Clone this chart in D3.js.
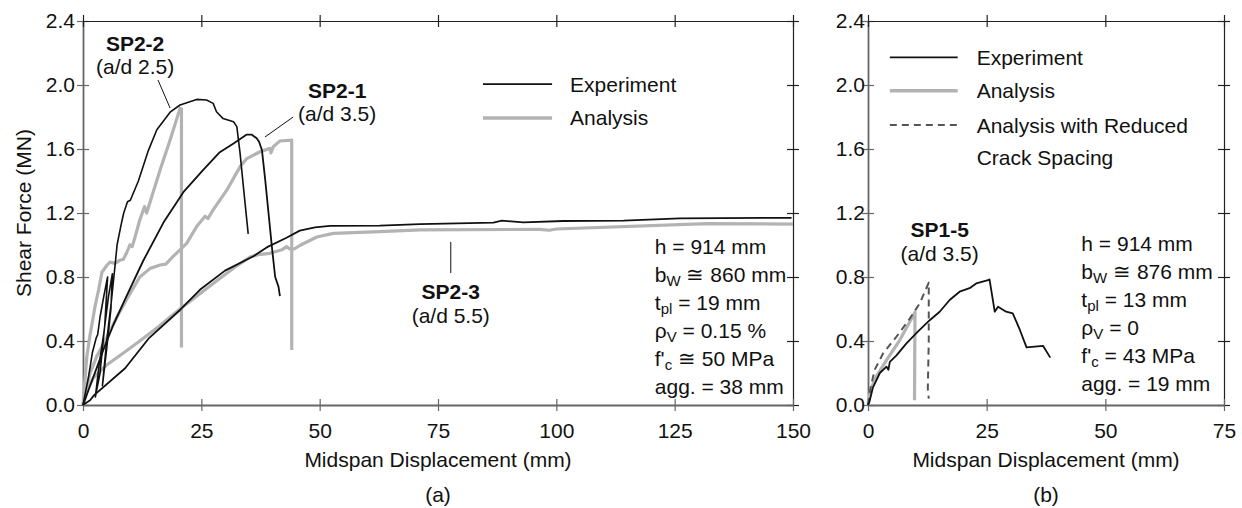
<!DOCTYPE html>
<html>
<head>
<meta charset="utf-8">
<script src="https://cdn.jsdelivr.net/npm/d3@7"></script>
<style>
  body { margin: 0; background: #fff; }
  svg { font-family: "Liberation Sans", Arial, sans-serif; }
  .tick text { font-size: 21px; fill: #111; }
  .lbl { font-size: 21px; fill: #111; }
  .bold { font-weight: bold; }
</style>
</head>
<body>
<svg id="chart" width="1242" height="508"></svg>
<script>
// ---- data (mm, MN) ----
const yTicks = [0, 0.4, 0.8, 1.2, 1.6, 2.0, 2.4];
const xTicksA = [0, 25, 50, 75, 100, 125, 150];
const xTicksB = [0, 25, 50, 75];

const sp22Exp = [[0,0],[1.2,0.18],[2.0,0.33],[2.8,0.42],[3.1,0.44],[3.6,0.55],[4.4,0.68],[5.2,0.8],[4.6,0.5],[3.6,0.2],[2.6,0.05],[3.4,0.25],[4.4,0.45],[5.4,0.68],[6.2,0.82],[5.9,0.6],[5.0,0.35],[4.1,0.12],[5.0,0.4],[6.0,0.65],[6.8,0.88],[7.2,1.0],[8.0,1.12],[8.6,1.2],[9.4,1.27],[10.0,1.28],[11.7,1.40],[13.8,1.59],[15.6,1.72],[18.4,1.83],[20.5,1.875],[24.0,1.91],[26.1,1.906],[27.5,1.885],[28.2,1.833],[29.6,1.79],[31.8,1.77],[32.5,1.74],[33.2,1.57],[33.9,1.36],[34.9,1.07]];
const sp22Ana = [[0,0],[0.8,0.3],[1.5,0.44],[2.6,0.625],[3.3,0.72],[4.0,0.83],[5.1,0.875],[5.7,0.893],[6.8,0.885],[7.8,0.905],[8.5,0.91],[9.2,0.95],[9.9,1.0],[10.4,0.99],[11.0,1.05],[12.0,1.156],[13.0,1.24],[13.45,1.2],[14.5,1.30],[16.3,1.47],[18.4,1.656],[20.5,1.854],[20.8,1.85],[20.8,0.36]];
const sp21Exp = [[0,0],[1.5,0.12],[3.0,0.24],[4.5,0.36],[6.4,0.5],[9.2,0.68],[12.7,0.9],[17.0,1.14],[21.2,1.33],[25.4,1.47],[28.9,1.58],[31.8,1.635],[34.6,1.69],[35.6,1.69],[36.7,1.667],[37.2,1.645],[37.8,1.594],[38.5,1.406],[39.2,1.198],[39.9,0.99],[40.6,0.80],[41.3,0.74],[41.6,0.68]];
const sp21Ana = [[0,0],[1.5,0.2],[3.0,0.31],[5.0,0.42],[7.0,0.54],[9.2,0.66],[12.0,0.80],[14.2,0.854],[16.3,0.875],[17.5,0.88],[19.1,0.93],[20.5,0.97],[21.9,1.01],[24.0,1.115],[25.8,1.18],[26.4,1.165],[27.5,1.22],[30.4,1.344],[33.2,1.49],[34.6,1.54],[37.4,1.583],[39.5,1.604],[39.7,1.575],[40.2,1.615],[41.6,1.65],[44.1,1.656],[44.1,0.344]];
const sp23Exp = [[0,0],[1.5,0.03],[2.3,0.06],[8.9,0.23],[14,0.42],[20.5,0.594],[24.7,0.72],[30,0.84],[36,0.93],[38.8,0.985],[43,1.045],[45.8,1.09],[49,1.11],[52.2,1.119],[62.7,1.121],[71.2,1.13],[86.7,1.14],[88.5,1.152],[93,1.142],[101.5,1.15],[114.2,1.152],[126.1,1.167],[149.7,1.17]];
const sp23Ana = [[0,0],[1,0.1],[2.2,0.17],[5,0.25],[8.9,0.333],[12,0.4],[16,0.49],[20.5,0.6],[27.5,0.76],[32,0.86],[35.3,0.925],[37,0.94],[39.5,0.948],[42,0.97],[43,0.99],[43.7,0.975],[44.6,0.975],[46,1.0],[49.4,1.05],[52.9,1.073],[62.7,1.083],[71.2,1.094],[96.5,1.098],[98.5,1.092],[100,1.1],[131.8,1.133],[150,1.131]];

const sp15Exp = [[0,0],[0.3,0.02],[1.05,0.11],[2.5,0.2],[3.9,0.24],[4.3,0.22],[4.6,0.27],[6,0.31],[8.1,0.385],[10.5,0.458],[13,0.53],[15.1,0.583],[17.2,0.656],[19.3,0.708],[21.4,0.73],[22.8,0.76],[25.3,0.78],[25.6,0.785],[26.7,0.583],[27.4,0.614],[29.1,0.583],[30.5,0.573],[32,0.469],[33.4,0.36],[36.9,0.369],[38.4,0.296]];
const sp15Ana = [[0,0],[0.6,0.1],[1.75,0.177],[3.9,0.28],[6.7,0.406],[9.9,0.58],[9.8,0.03]];
const sp15Red = [[0,0],[0.5,0.1],[1.4,0.22],[3.2,0.323],[6,0.427],[8.8,0.54],[10.9,0.635],[12.8,0.765],[12.8,0.4],[12.6,0.1],[12.8,0.04]];

const paramsA = [
  [["h = 914 mm"]],
  [["b"],["W","sub"],[" \u2245 860 mm"]],
  [["t"],["pl","sub"],[" = 19 mm"]],
  [["\u03C1"],["V","sub"],[" = 0.15 %"]],
  [["f'"],["c","sub"],[" \u2245 50 MPa"]],
  [["agg. = 38 mm"]]
];
const paramsB = [
  [["h = 914 mm"]],
  [["b"],["W","sub"],[" \u2245 876 mm"]],
  [["t"],["pl","sub"],[" = 13 mm"]],
  [["\u03C1"],["V","sub"],[" = 0"]],
  [["f'"],["c","sub"],[" = 43 MPa"]],
  [["agg. = 19 mm"]]
];

const grey = "#b3b3b3";
const svg = d3.select("#chart");

function drawPanel(o) {
  const x = d3.scaleLinear().domain(o.xDomain).range([o.left, o.right]);
  const y = d3.scaleLinear().domain([0, 2.4]).range([405, 21]);
  const g = svg.append("g");

  // frame axes, ticks cross the frame
  const ax = [
    {a: d3.axisLeft(y).tickValues(yTicks).tickFormat(d3.format(".1f")).tickPadding(o.yPad), t: `translate(${o.left},0)`, c: "#666", w: 1.8, k: "x1"},
    {a: d3.axisRight(y).tickValues(yTicks).tickFormat(""), t: `translate(${o.right},0)`, c: "#222", w: 1.2, k: "x1"},
    {a: d3.axisBottom(x).tickValues(o.xTicks).tickPadding(12), t: "translate(0,405)", c: "#666", w: 1.8, k: "y1"},
    {a: d3.axisTop(x).tickValues(o.xTicks).tickFormat(""), t: "translate(0,21)", c: "#222", w: 1.2, k: "y1"}
  ];
  ax.forEach(s => {
    const ag = g.append("g").attr("transform", s.t).call(s.a.tickSize(6).tickSizeOuter(0));
    ag.select(".domain").attr("stroke", s.c).attr("stroke-width", s.w);
    ag.selectAll(".tick line").attr("stroke", s.c).attr("stroke-width", 1.2)
      .attr(s.k, function() { return -(+d3.select(this).attr(s.k === "x1" ? "x2" : "y2")); });
    ag.selectAll(".tick text").attr("font-family", null).attr("font-size", null);
  });

  const line = d3.line().x(d => x(d[0])).y(d => y(d[1]));
  o.series.forEach(s => {
    g.append("path").datum(s.data).attr("d", line).attr("fill", "none")
      .attr("stroke", s.color).attr("stroke-width", s.width)
      .attr("stroke-dasharray", s.dash || null)
      .attr("stroke-linejoin", "round");
  });

  // legend
  o.legend.forEach(l => {
    g.append("line").attr("x1", x(o.legX[0])).attr("x2", x(o.legX[1]))
      .attr("y1", y(l.y)).attr("y2", y(l.y))
      .attr("stroke", l.color).attr("stroke-width", l.width).attr("stroke-dasharray", l.dash || null);
    l.text.forEach((t, i) => {
      g.append("text").attr("class", "lbl").attr("x", x(o.legX[2]))
        .attr("y", y(l.y) + 7.5 + i * 32).text(t);
    });
  });

  // specimen labels
  o.labels.forEach(l => {
    if (l.leader) {
      g.append("line").attr("x1", x(l.leader[0])).attr("y1", y(l.leader[1]))
        .attr("x2", x(l.leader[2])).attr("y2", y(l.leader[3]))
        .attr("stroke", "#111").attr("stroke-width", 1);
    }
    g.append("text").attr("class", "lbl bold").attr("text-anchor", "middle")
      .attr("x", x(l.x)).attr("y", y(l.y)).text(l.name);
    g.append("text").attr("class", "lbl").attr("text-anchor", "middle")
      .attr("x", x(l.x)).attr("y", y(l.y) + 23.5).text(l.sub);
  });

  // parameter block
  o.params.forEach((row, i) => {
    const t = g.append("text").attr("class", "lbl").attr("x", x(o.parX)).attr("y", y(o.parY) + i * 28);
    let shifted = false;
    row.forEach(seg => {
      const ts = t.append("tspan").text(seg[0]);
      if (seg[1] === "sub") { ts.attr("font-size", 15).attr("dy", 4); shifted = true; }
      else if (shifted) { ts.attr("dy", -4); shifted = false; }
    });
  });

  g.append("text").attr("class", "lbl").attr("text-anchor", "middle")
    .attr("x", (o.left + o.right) / 2).attr("y", 467).text("Midspan Displacement (mm)");
  g.append("text").attr("class", "lbl").attr("text-anchor", "middle")
    .attr("x", (o.left + o.right) / 2).attr("y", 502).text(o.tag);
}

drawPanel({
  left: 83, right: 793, xDomain: [0, 150], xTicks: xTicksA, yPad: 2, tag: "(a)",
  series: [
    {data: sp23Ana, color: grey, width: 3.2},
    {data: sp21Ana, color: grey, width: 3.2},
    {data: sp22Ana, color: grey, width: 3.2},
    {data: sp23Exp, color: "#111", width: 1.8},
    {data: sp21Exp, color: "#111", width: 1.8},
    {data: sp22Exp, color: "#111", width: 1.6}
  ],
  legX: [84.5, 99.1, 102.9],
  legend: [
    {y: 2.006, color: "#111", width: 1.8, text: ["Experiment"]},
    {y: 1.794, color: grey, width: 3.5, text: ["Analysis"]}
  ],
  labels: [
    {name: "SP2-2", sub: "(a/d 2.5)", x: 11.0, y: 2.215, leader: [15.85, 2.031, 18.4, 1.856]},
    {name: "SP2-1", sub: "(a/d 3.5)", x: 53.7, y: 1.92, leader: [44.4, 1.8, 38.45, 1.675]},
    {name: "SP2-3", sub: "(a/d 5.5)", x: 77.7, y: 0.66, leader: [77.7, 1.019, 77.7, 0.825]}
  ],
  params: paramsA, parX: 120.8, parY: 0.945
});

drawPanel({
  left: 868, right: 1224, xDomain: [0, 75], xTicks: xTicksB, yPad: -3, tag: "(b)",
  series: [
    {data: sp15Ana, color: grey, width: 3.2},
    {data: sp15Red, color: "#555", width: 2, dash: "7,5"},
    {data: sp15Exp, color: "#111", width: 1.8}
  ],
  legX: [4.6, 18.9, 22.9],
  legend: [
    {y: 2.173, color: "#111", width: 1.8, text: ["Experiment"]},
    {y: 1.964, color: grey, width: 3.5, text: ["Analysis"]},
    {y: 1.75, color: "#555", width: 2, dash: "7,5", text: ["Analysis with Reduced", "Crack Spacing"]}
  ],
  labels: [
    {name: "SP1-5", sub: "(a/d 3.5)", x: 15.1, y: 1.05}
  ],
  params: paramsB, parX: 44.95, parY: 0.965
});

svg.append("text").attr("class", "lbl").attr("text-anchor", "middle")
  .attr("transform", "translate(31,213) rotate(-90)").text("Shear Force (MN)");
</script>
</body>
</html>
